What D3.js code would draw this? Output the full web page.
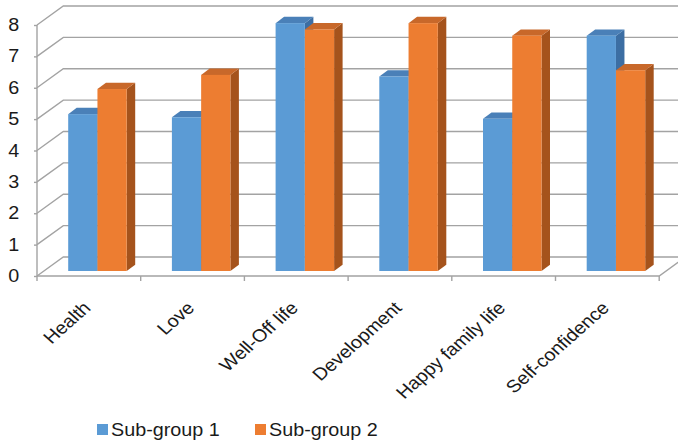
<!DOCTYPE html>
<html>
<head>
<meta charset="utf-8">
<script src="https://cdn.jsdelivr.net/npm/d3@7"></script>
<style>
  html, body { margin: 0; padding: 0; background: #fff; }
  svg { display: block; }
  text { font-family: "Liberation Sans", Arial, sans-serif; fill: #1a1a1a; }
</style>
</head>
<body>
<svg id="chart" width="678" height="445"></svg>
<script>
// Chart data
const categories = ["Health", "Love", "Well-Off life", "Development", "Happy family life", "Self-confidence"];
const seriesNames = ["Sub-group 1", "Sub-group 2"];
const subGroup1 = [5.0, 4.9, 7.9, 6.2, 4.85, 7.5];
const subGroup2 = [5.8, 6.25, 7.7, 7.9, 7.5, 6.4];
const yTicks = [0, 1, 2, 3, 4, 5, 6, 7, 8];

// Colours per series: front, top, side faces
const faceColors = [
  { front: "#5b9bd5", top: "#4a80b8", side: "#3c6ea3" },
  { front: "#ed7d31", top: "#c8682a", side: "#a5531c" }
];

const svg = d3.select("#chart");
const textStretch = 1.13;

// Front plane of the plot box
const left = 37, plotRight = 37 + 6 * 103.7;
const x = d3.scaleBand().domain(categories).range([left, plotRight]).padding(0);
const y = d3.scaleLinear().domain([0, 8]).range([276, 25]);

// Oblique depth of the box (front -> back wall)
const depthX = 26.3, depthY = -19;
// Plane the columns stand on, and column depth
const barPlaneX = 8.6, barPlaneY = -5;
const barDepthX = 8.5, barDepthY = -6.3;

const gridColor = "#a3a3a3";
const grid = svg.append("g").attr("fill", "none").attr("stroke", gridColor).attr("stroke-width", 1.4);

// Side wall diagonals and back wall gridlines
yTicks.forEach(t => {
  const yf = y(t);
  grid.append("path").attr("d", `M${left},${yf}L${left + depthX},${yf + depthY}L${700},${yf + depthY}`);
});
// Floor: front edge, right diagonal
grid.append("path").attr("d", `M${left},${y(0)}L${plotRight},${y(0)}L${plotRight + depthX},${y(0) + depthY}`);
// Front vertical axis line
grid.append("path").attr("d", `M${left},${y(8)}L${left},${y(0)}`);

// Value axis ticks and labels
const yAxis = d3.axisLeft(y).tickValues(yTicks).tickFormat(d3.format("d")).tickSize(3).tickPadding(12.6);
const yAxisG = svg.append("g").attr("transform", `translate(${left},0)`).call(yAxis);
yAxisG.select(".domain").remove();
yAxisG.selectAll(".tick line").attr("stroke", gridColor).attr("stroke-width", 1.4);
yAxisG.selectAll(".tick text")
  .attr("font-size", 17.5)
  .attr("font-family", "Liberation Sans, Arial, sans-serif")
  .attr("fill", "#1a1a1a")
  .attr("transform", `scale(${textStretch},1)`);

// Category ticks at band boundaries
const boundaries = categories.map(c => x(c)).concat([x(categories[categories.length - 1]) + x.bandwidth()]);
grid.selectAll("line.ctick").data(boundaries).join("line")
  .attr("x1", d => d).attr("x2", d => d)
  .attr("y1", y(0)).attr("y2", y(0) + 5);

// Category labels, rotated (same horizontal stretch as the other text)
svg.append("g").selectAll("text").data(categories).join("text")
  .attr("transform", c => `translate(${x(c) + x.bandwidth() / 2 + 3},${309}) scale(${textStretch},1) rotate(-45)`)
  .attr("text-anchor", "end")
  .attr("font-size", 17.5)
  .text(c => c);

// Columns
const groupWidth = 58.5;
const x1 = d3.scaleBand().domain(seriesNames).range([0, groupWidth]).padding(0);
const values = [subGroup1, subGroup2];

const bars = svg.append("g");
categories.forEach((c, i) => {
  seriesNames.forEach((s, k) => {
    const v = values[k][i];
    const x0 = x(c) + x.bandwidth() / 2 + barPlaneX - groupWidth / 2 + x1(s);
    const x2 = x0 + x1.bandwidth();
    const yb = y(0) + barPlaneY;
    const yt = y(v) + barPlaneY;
    const col = faceColors[k];
    // right side face
    bars.append("path")
      .attr("d", `M${x2},${yt}L${x2 + barDepthX},${yt + barDepthY}L${x2 + barDepthX},${yb + barDepthY}L${x2},${yb}Z`)
      .attr("fill", col.side);
    // top face
    bars.append("path")
      .attr("d", `M${x0},${yt}L${x0 + barDepthX},${yt + barDepthY}L${x2 + barDepthX},${yt + barDepthY}L${x2},${yt}Z`)
      .attr("fill", col.top);
    // front face
    bars.append("rect")
      .attr("x", x0).attr("y", yt)
      .attr("width", x2 - x0).attr("height", yb - yt)
      .attr("fill", col.front);
  });
});

// Legend
const legendX = [97, 255];
const legend = svg.append("g");
seriesNames.forEach((s, k) => {
  legend.append("rect")
    .attr("x", legendX[k]).attr("y", 424)
    .attr("width", 11).attr("height", 11)
    .attr("fill", faceColors[k].front);
  legend.append("text")
    .attr("transform", `translate(${legendX[k] + 14},436) scale(${textStretch},1)`)
    .attr("font-size", 17.5)
    .text(s);
});
</script>
</body>
</html>
